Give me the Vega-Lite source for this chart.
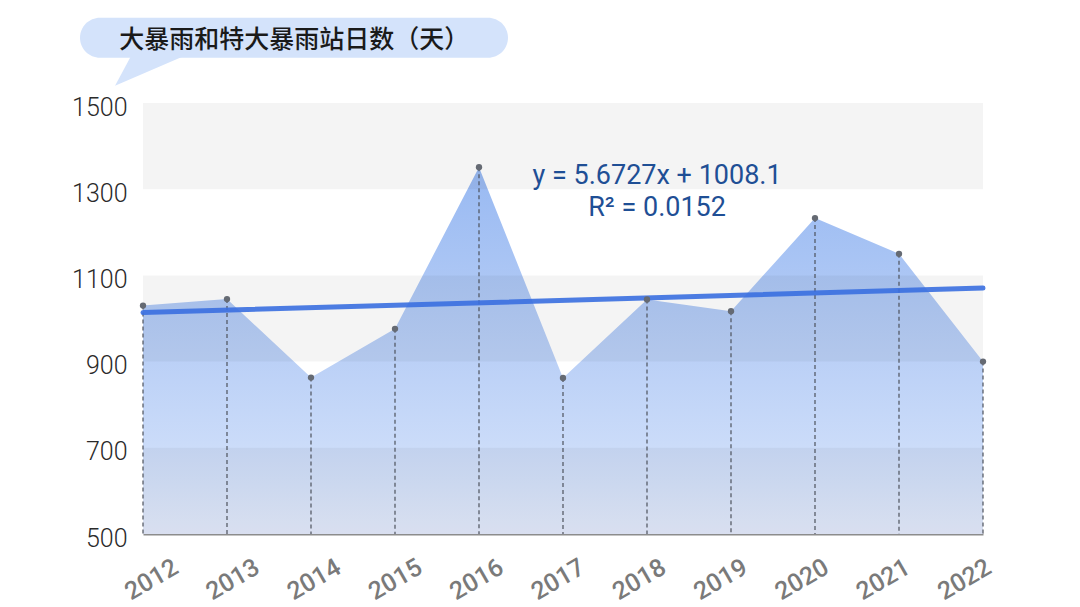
{
  "$schema": "https://vega.github.io/schema/vega-lite/v6.json",
  "width": 840,
  "height": 431,
  "autosize": "none",
  "padding": {"left": 143, "top": 103, "right": 97, "bottom": 73},
  "background": "white",
  "config": {"view": {"stroke": null}},
  "datasets": {
    "rain": [
      {"year": 2012, "days": 1030},
      {"year": 2013, "days": 1045},
      {"year": 2014, "days": 863},
      {"year": 2015, "days": 976},
      {"year": 2016, "days": 1351},
      {"year": 2017, "days": 862},
      {"year": 2018, "days": 1044},
      {"year": 2019, "days": 1017},
      {"year": 2020, "days": 1233},
      {"year": 2021, "days": 1150},
      {"year": 2022, "days": 900}
    ],
    "trend": [
      {"year": 2012, "fit": 1013.77},
      {"year": 2022, "fit": 1070.50}
    ],
    "bands": [
      {"lo": 500, "hi": 700},
      {"lo": 900, "hi": 1100},
      {"lo": 1300, "hi": 1500}
    ]
  },
  "encoding": {
    "x": {
      "type": "quantitative",
      "scale": {"domain": [2012, 2022], "nice": false, "zero": false}
    }
  },
  "layer": [
    {
      "data": {"name": "rain"},
      "mark": {"type": "area", "opacity": 1},
      "encoding": {
        "x": {
          "field": "year",
          "type": "quantitative",
          "axis": {
            "values": [2012, 2013, 2014, 2015, 2016, 2017, 2018, 2019, 2020, 2021, 2022],
            "format": "d",
            "title": null,
            "grid": false,
            "ticks": false,
            "domain": true,
            "domainColor": "#8c8c8c",
            "domainWidth": 2,
            "labelAngle": -30,
            "labelAlign": "center",
            "labelBaseline": "middle",
            "labelPadding": 45,
            "labelOffset": {"expr": "8 - 2.7 * (datum.value - 2012)"},
            "labelFont": "Roboto",
            "labelFontSize": 25,
            "labelFontWeight": 500,
            "labelColor": "#7a7a7a"
          }
        },
        "y": {
          "field": "days",
          "type": "quantitative",
          "scale": {"domain": [500, 1500], "nice": false, "zero": false},
          "axis": {
            "values": [500, 700, 900, 1100, 1300, 1500],
            "format": "d",
            "title": null,
            "grid": false,
            "ticks": false,
            "domain": false,
            "labelPadding": 16,
            "labelOffset": 4,
            "labelFont": "Roboto",
            "labelFontSize": 25,
            "labelFontWeight": 300,
            "labelColor": "#2a2a2a"
          }
        },
        "y2": {"datum": 500},
        "color": {
          "value": {
            "gradient": "linear",
            "x1": 0, "y1": 0, "x2": 0, "y2": 1,
            "stops": [
              {"offset": 0, "color": "#98b9f2"},
              {"offset": 0.5, "color": "#b9cff6"},
              {"offset": 0.75, "color": "#cadbf9"},
              {"offset": 1, "color": "#e3eafb"}
            ]
          }
        }
      }
    },
    {
      "data": {"name": "bands"},
      "mark": {"type": "rect", "color": "#000000", "opacity": 0.045},
      "encoding": {
        "x": {"datum": 2012},
        "x2": {"datum": 2022},
        "y": {"field": "lo", "type": "quantitative"},
        "y2": {"field": "hi"}
      }
    },
    {
      "data": {"name": "rain"},
      "mark": {"type": "rule", "color": "#4d525c", "strokeWidth": 1.2, "strokeDash": [4, 3]},
      "encoding": {
        "x": {"field": "year", "type": "quantitative"},
        "y": {"field": "days", "type": "quantitative"},
        "y2": {"datum": 500}
      }
    },
    {
      "data": {"name": "trend"},
      "mark": {"type": "line", "color": "#3a6fe0", "strokeWidth": 5, "strokeCap": "round", "opacity": 0.9},
      "encoding": {
        "x": {"field": "year", "type": "quantitative"},
        "y": {"field": "fit", "type": "quantitative"}
      }
    },
    {
      "data": {"name": "rain"},
      "mark": {"type": "point", "filled": true, "size": 40, "color": "#656a73", "opacity": 1},
      "encoding": {
        "x": {"field": "year", "type": "quantitative"},
        "y": {"field": "days", "type": "quantitative"}
      }
    },
    {
      "data": {"values": [{"eq": "y = 5.6727x + 1008.1", "r2": "R² = 0.0152"}]},
      "layer": [
        {
          "mark": {"type": "text", "font": "Roboto", "fontSize": 27, "color": "#1f4f95", "align": "center", "baseline": "middle"},
          "encoding": {
            "x": {"datum": 2018.12},
            "y": {"datum": 1331},
            "text": {"field": "eq"}
          }
        },
        {
          "mark": {"type": "text", "font": "Roboto", "fontSize": 27, "color": "#1f4f95", "align": "center", "baseline": "middle"},
          "encoding": {
            "x": {"datum": 2018.12},
            "y": {"datum": 1257},
            "text": {"field": "r2"}
          }
        }
      ]
    },
    {
      "data": {"values": [{"label": "大暴雨和特大暴雨站日数（天）"}]},
      "layer": [
        {
          "mark": {"type": "rect", "color": "#d4e3fb", "cornerRadius": 20},
          "encoding": {
            "x": {"datum": 2011.25},
            "x2": {"datum": 2016.345},
            "y": {"datum": 1605},
            "y2": {"datum": 1698}
          }
        },
        {
          "mark": {"type": "point", "filled": true, "opacity": 1, "color": "#d4e3fb", "size": 4225, "shape": "M-0.5,-0.5L1.16,-0.5L-1,0.431Z"},
          "encoding": {
            "x": {"datum": 2012.054},
            "y": {"datum": 1572.6}
          }
        },
        {
          "mark": {"type": "text", "font": "Noto Sans CJK SC", "fontSize": 25, "fontWeight": 500, "color": "#1a1a1a", "align": "center", "baseline": "middle"},
          "encoding": {
            "x": {"datum": 2013.8},
            "y": {"datum": 1647},
            "text": {"field": "label"}
          }
        }
      ]
    }
  ]
}
